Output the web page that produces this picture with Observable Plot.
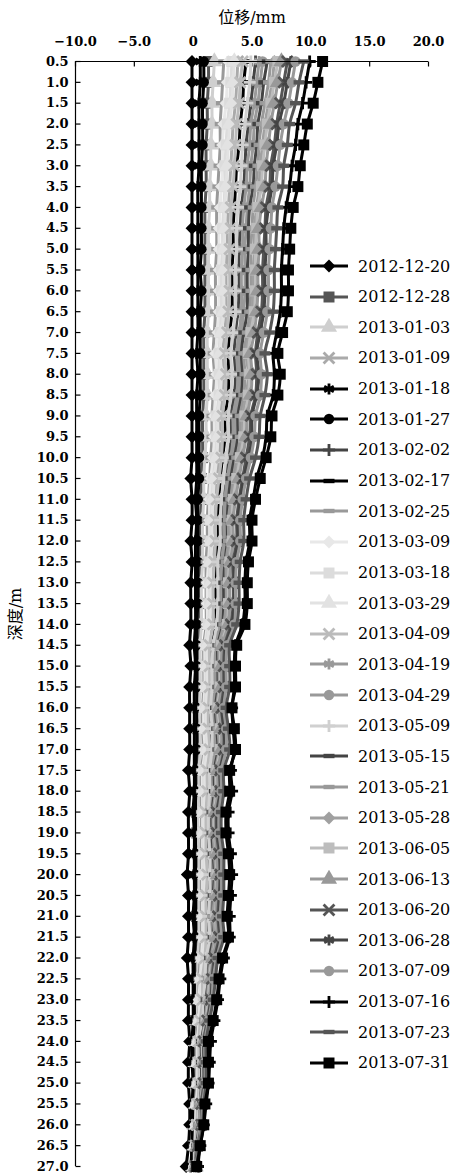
<!DOCTYPE html>
<html><head><meta charset="utf-8">
<script src="https://cdn.jsdelivr.net/npm/d3@7"></script>
<script src="https://cdn.jsdelivr.net/npm/@observablehq/plot@0.6"></script>
<style>
body{margin:0;background:#fff;}
#wrap{position:relative;width:452px;height:1173px;overflow:hidden;}
#legend{position:absolute;left:0;top:0;width:452px;height:1173px;pointer-events:none;}
.item{position:absolute;left:310px;height:18px;display:flex;align-items:center;white-space:nowrap;}
.item span{font-family:'DejaVu Serif';font-size:16px;color:#000;margin-left:8px;}
</style></head><body><div id="wrap"></div>
<script>
// depth (m)
const depths = [0.5,1.0,1.5,2.0,2.5,3.0,3.5,4.0,4.5,5.0,5.5,6.0,6.5,7.0,7.5,8.0,8.5,9.0,9.5,10.0,10.5,11.0,11.5,12.0,12.5,13.0,13.5,14.0,14.5,15.0,15.5,16.0,16.5,17.0,17.5,18.0,18.5,19.0,19.5,20.0,20.5,21.0,21.5,22.0,22.5,23.0,23.5,24.0,24.5,25.0,25.5,26.0,26.5,27.0];
const dates = ["2012-12-20","2012-12-28","2013-01-03","2013-01-09","2013-01-18","2013-01-27","2013-02-02","2013-02-17","2013-02-25","2013-03-09","2013-03-18","2013-03-29","2013-04-09","2013-04-19","2013-04-29","2013-05-09","2013-05-15","2013-05-21","2013-05-28","2013-06-05","2013-06-13","2013-06-20","2013-06-28","2013-07-09","2013-07-16","2013-07-23","2013-07-31"];
const xTicks = [-10,-5,0,5,10,15,20];

// displacement (mm) per date, one value per depth
const d20121220 = [-0.1,-0.1,-0.1,-0.1,-0.1,-0.1,-0.1,-0.1,-0.1,-0.1, -0.1,-0.1,-0.1,-0.1,-0.1,-0.1,-0.1,-0.1,-0.1,-0.1, -0.2,-0.1,-0.1,-0.2,-0.1,-0.2,-0.2,-0.2,-0.3,-0.2, -0.3,-0.3,-0.3,-0.3,-0.4,-0.3,-0.4,-0.4,-0.4,-0.5, -0.4,-0.4,-0.4,-0.5,-0.4,-0.4,-0.4,-0.3,-0.4,-0.4, -0.3,-0.3,-0.4,-0.6];
const d20121228 = [1.3,1.3,1.2,1.2,1.1,1.1,1.1,1.0,1.0,1.0, 1.0,1.0,1.0,0.9,0.9,0.9,0.9,0.8,0.8,0.8, 0.7,0.7,0.6,0.6,0.6,0.6,0.6,0.5,0.5,0.5, 0.5,0.4,0.4,0.5,0.4,0.4,0.3,0.3,0.4,0.4, 0.4,0.3,0.4,0.3,0.3,0.2,0.2,0.1,0.1,0.1, 0.1,0.1,0.0,0.0];
const d20130103 = [1.8,1.7,1.6,1.6,1.5,1.5,1.4,1.4,1.3,1.3, 1.3,1.3,1.3,1.2,1.2,1.2,1.2,1.1,1.1,1.0, 0.9,0.9,0.8,0.8,0.8,0.7,0.7,0.7,0.6,0.6, 0.6,0.5,0.6,0.6,0.5,0.5,0.4,0.4,0.5,0.5, 0.5,0.5,0.5,0.4,0.4,0.3,0.3,0.2,0.2,0.2, 0.2,0.1,0.1,0.0];
const d20130109 = [3.8,3.7,3.6,3.4,3.3,3.2,3.1,3.0,2.9,2.9, 2.8,2.8,2.8,2.7,2.5,2.6,2.5,2.3,2.3,2.2, 2.0,1.9,1.8,1.8,1.6,1.6,1.6,1.5,1.3,1.3, 1.3,1.2,1.2,1.3,1.1,1.1,1.0,1.0,1.1,1.1, 1.1,1.0,1.1,0.9,0.8,0.7,0.6,0.5,0.5,0.5, 0.4,0.3,0.2,0.1];
const d20130118 = [0.6,0.6,0.5,0.5,0.5,0.5,0.4,0.4,0.4,0.4, 0.4,0.4,0.4,0.4,0.3,0.4,0.3,0.3,0.3,0.3, 0.3,0.2,0.3,0.2,0.2,0.2,0.2,0.2,0.1,0.2, 0.1,0.1,0.1,0.1,0.1,0.1,0.0,0.1,0.1,0.1, 0.1,0.0,0.1,0.0,0.0,0.0,0.0,-0.1,-0.1,0.0, -0.1,-0.1,-0.1,-0.2];
const d20130127 = [0.9,0.9,0.8,0.8,0.8,0.7,0.7,0.7,0.7,0.7, 0.6,0.7,0.6,0.6,0.6,0.6,0.6,0.5,0.5,0.5, 0.5,0.4,0.4,0.4,0.4,0.4,0.4,0.3,0.3,0.3, 0.3,0.3,0.3,0.3,0.2,0.2,0.2,0.2,0.2,0.2, 0.2,0.2,0.2,0.1,0.1,0.1,0.1,0.0,0.0,0.0, 0.0,0.0,-0.1,-0.1];
const d20130202 = [5.3,5.1,4.9,4.7,4.5,4.4,4.3,4.1,4.0,3.9, 3.9,3.9,3.8,3.6,3.5,3.6,3.5,3.2,3.2,3.0, 2.7,2.5,2.4,2.4,2.3,2.2,2.2,2.1,1.8,1.7, 1.7,1.6,1.7,1.7,1.5,1.5,1.3,1.3,1.4,1.5, 1.4,1.4,1.4,1.2,1.1,1.0,0.8,0.6,0.6,0.6, 0.5,0.4,0.3,0.1];
const d20130217 = [4.5,4.3,4.2,4.0,3.9,3.7,3.6,3.5,3.4,3.4, 3.3,3.3,3.3,3.1,3.0,3.0,3.0,2.7,2.7,2.5, 2.3,2.2,2.1,2.1,1.9,1.9,1.9,1.8,1.5,1.5, 1.5,1.4,1.4,1.5,1.3,1.3,1.1,1.1,1.2,1.3, 1.2,1.2,1.2,1.0,0.9,0.8,0.7,0.5,0.5,0.5, 0.4,0.4,0.2,0.1];
const d20130225 = [2.6,2.5,2.4,2.3,2.3,2.2,2.1,2.0,2.0,2.0, 1.9,1.9,1.9,1.8,1.7,1.8,1.7,1.6,1.6,1.5, 1.4,1.3,1.2,1.2,1.1,1.1,1.1,1.1,0.9,0.9, 0.9,0.8,0.8,0.9,0.7,0.7,0.7,0.7,0.7,0.7, 0.7,0.7,0.7,0.6,0.5,0.5,0.4,0.3,0.3,0.3, 0.2,0.2,0.1,0.1];
const d20130309 = [3.0,2.9,2.8,2.6,2.5,2.5,2.4,2.3,2.2,2.2, 2.2,2.2,2.2,2.1,1.9,2.0,1.9,1.8,1.8,1.7, 1.5,1.4,1.4,1.4,1.3,1.2,1.2,1.2,1.0,1.0, 1.0,0.9,0.9,1.0,0.8,0.8,0.8,0.8,0.8,0.8, 0.8,0.8,0.8,0.7,0.6,0.5,0.5,0.4,0.4,0.4, 0.3,0.2,0.2,0.1];
const d20130318 = [3.3,3.2,3.1,2.9,2.8,2.7,2.7,2.6,2.5,2.5, 2.4,2.4,2.4,2.3,2.2,2.2,2.2,2.0,2.0,1.9, 1.7,1.6,1.5,1.5,1.4,1.4,1.4,1.3,1.1,1.1, 1.1,1.0,1.1,1.1,0.9,0.9,0.8,0.8,0.9,0.9, 0.9,0.9,0.9,0.8,0.7,0.6,0.5,0.4,0.4,0.4, 0.3,0.3,0.2,0.1];
const d20130329 = [3.5,3.4,3.3,3.1,3.0,2.9,2.8,2.7,2.7,2.6, 2.6,2.6,2.6,2.4,2.3,2.4,2.3,2.1,2.1,2.0, 1.8,1.7,1.6,1.6,1.5,1.5,1.5,1.4,1.2,1.2, 1.2,1.1,1.1,1.2,1.0,1.0,0.9,0.9,1.0,1.0, 1.0,0.9,1.0,0.8,0.7,0.6,0.5,0.4,0.4,0.4, 0.3,0.3,0.2,0.1];
const d20130409 = [4.2,4.0,3.9,3.7,3.6,3.5,3.4,3.2,3.2,3.1, 3.1,3.1,3.0,2.9,2.7,2.8,2.7,2.5,2.5,2.4, 2.2,2.0,1.9,1.9,1.8,1.7,1.7,1.7,1.4,1.4, 1.4,1.3,1.3,1.4,1.2,1.2,1.1,1.1,1.1,1.2, 1.1,1.1,1.1,1.0,0.8,0.8,0.6,0.5,0.5,0.5, 0.4,0.3,0.2,0.1];
const d20130419 = [5.6,5.4,5.2,4.9,4.8,4.6,4.5,4.3,4.2,4.2, 4.1,4.1,4.1,3.9,3.7,3.8,3.7,3.4,3.4,3.2, 2.9,2.7,2.6,2.6,2.4,2.3,2.3,2.2,1.9,1.8, 1.8,1.7,1.8,1.8,1.6,1.6,1.4,1.4,1.5,1.6, 1.5,1.5,1.5,1.3,1.1,1.0,0.9,0.7,0.7,0.7, 0.5,0.5,0.3,0.2];
const d20130429 = [5.9,5.7,5.5,5.2,5.1,4.9,4.8,4.6,4.5,4.4, 4.4,4.4,4.3,4.1,3.9,4.0,3.9,3.6,3.6,3.3, 3.1,2.9,2.7,2.7,2.5,2.5,2.5,2.4,2.0,1.9, 1.9,1.8,1.9,1.9,1.7,1.7,1.5,1.5,1.6,1.7, 1.6,1.6,1.6,1.4,1.2,1.1,0.9,0.7,0.7,0.7, 0.5,0.5,0.3,0.2];
const d20130509 = [4.9,4.8,4.6,4.4,4.2,4.1,4.0,3.8,3.7,3.7, 3.6,3.6,3.6,3.4,3.2,3.3,3.2,3.0,3.0,2.8, 2.6,2.4,2.3,2.3,2.1,2.1,2.1,2.0,1.7,1.6, 1.6,1.5,1.6,1.6,1.4,1.4,1.3,1.3,1.4,1.4, 1.4,1.3,1.4,1.1,1.0,0.9,0.8,0.6,0.6,0.6, 0.5,0.4,0.3,0.1];
const d20130515 = [6.3,6.0,5.8,5.5,5.4,5.2,5.1,4.8,4.7,4.7, 4.6,4.6,4.6,4.3,4.1,4.2,4.1,3.8,3.8,3.5, 3.2,3.0,2.9,2.9,2.7,2.6,2.6,2.5,2.1,2.1, 2.1,1.9,2.0,2.1,1.8,1.8,1.6,1.6,1.7,1.8, 1.7,1.7,1.7,1.4,1.3,1.1,1.0,0.7,0.7,0.7, 0.6,0.5,0.3,0.2];
const d20130521 = [6.6,6.4,6.1,5.8,5.6,5.5,5.3,5.1,5.0,4.9, 4.9,4.9,4.8,4.6,4.3,4.4,4.3,4.0,4.0,3.7, 3.4,3.2,3.0,3.0,2.8,2.8,2.8,2.6,2.2,2.2, 2.2,2.0,2.1,2.2,1.9,1.9,1.7,1.7,1.8,1.9, 1.8,1.7,1.8,1.5,1.3,1.2,1.0,0.8,0.8,0.8, 0.6,0.5,0.4,0.2];
const d20130528 = [6.9,6.7,6.4,6.1,5.9,5.7,5.6,5.4,5.2,5.2, 5.1,5.1,5.0,4.8,4.5,4.7,4.5,4.2,4.2,3.9, 3.6,3.3,3.2,3.2,3.0,2.9,2.9,2.8,2.3,2.3, 2.3,2.1,2.2,2.3,2.0,2.0,1.8,1.8,1.9,2.0, 1.9,1.8,1.9,1.6,1.4,1.3,1.1,0.8,0.8,0.8, 0.6,0.6,0.4,0.2];
const d20130605 = [7.2,6.9,6.6,6.3,6.1,5.9,5.8,5.5,5.4,5.3, 5.3,5.3,5.2,4.9,4.7,4.8,4.7,4.4,4.3,4.0, 3.7,3.4,3.3,3.3,3.1,3.0,3.0,2.9,2.4,2.3, 2.3,2.1,2.3,2.3,2.0,2.0,1.8,1.8,2.0,2.0, 2.0,1.9,2.0,1.6,1.4,1.3,1.1,0.8,0.8,0.8, 0.7,0.6,0.4,0.2];
const d20130613 = [7.5,7.2,6.9,6.6,6.4,6.2,6.1,5.8,5.6,5.6, 5.5,5.5,5.4,5.2,4.9,5.0,4.9,4.6,4.5,4.2, 3.9,3.6,3.4,3.4,3.2,3.1,3.1,3.0,2.5,2.4, 2.4,2.2,2.4,2.4,2.1,2.1,1.9,1.9,2.0,2.1, 2.0,2.0,2.0,1.7,1.5,1.4,1.2,0.9,0.9,0.9, 0.7,0.6,0.4,0.2];
const d20130620 = [8.0,7.7,7.4,7.1,6.9,6.6,6.5,6.2,6.1,6.0, 5.9,5.9,5.8,5.5,5.3,5.4,5.3,4.9,4.8,4.5, 4.2,3.9,3.7,3.7,3.4,3.4,3.4,3.2,2.7,2.6, 2.6,2.4,2.6,2.6,2.3,2.3,2.0,2.0,2.2,2.3, 2.2,2.1,2.2,1.8,1.6,1.5,1.2,0.9,0.9,0.9, 0.7,0.7,0.4,0.2];
const d20130628 = [8.3,8.0,7.7,7.3,7.1,6.8,6.7,6.4,6.2,6.2, 6.1,6.1,6.0,5.7,5.4,5.6,5.4,5.0,5.0,4.7, 4.3,4.0,3.8,3.8,3.5,3.5,3.5,3.3,2.8,2.7, 2.7,2.5,2.6,2.7,2.3,2.3,2.1,2.1,2.3,2.3, 2.3,2.2,2.3,1.9,1.7,1.5,1.3,1.0,1.0,1.0, 0.8,0.7,0.5,0.2];
const d20130709 = [8.7,8.4,8.1,7.7,7.4,7.2,7.0,6.7,6.6,6.5, 6.4,6.4,6.3,6.0,5.7,5.8,5.7,5.3,5.2,4.9, 4.5,4.2,4.0,4.0,3.7,3.6,3.6,3.5,2.9,2.8, 2.8,2.6,2.8,2.8,2.4,2.4,2.2,2.2,2.4,2.4, 2.4,2.3,2.4,2.0,1.7,1.6,1.3,1.0,1.0,1.0, 0.8,0.7,0.5,0.2];
const d20130716 = [9.9,9.6,9.3,8.9,8.7,8.4,8.2,7.9,7.7,7.6, 7.5,7.5,7.4,7.1,6.8,6.9,6.8,6.3,6.2,5.9, 5.4,5.1,4.8,4.8,4.5,4.4,4.4,4.2,3.6,3.5, 3.5,3.3,3.4,3.5,3.2,3.3,3.0,3.0,3.2,3.3, 3.2,3.1,3.1,2.6,2.3,2.1,1.8,1.5,1.4,1.3, 1.1,0.9,0.6,0.4];
const d20130723 = [9.4,9.0,8.7,8.2,8.0,7.7,7.6,7.2,7.1,7.0, 6.9,6.9,6.8,6.5,6.1,6.3,6.1,5.7,5.6,5.3, 4.8,4.5,4.3,4.3,4.0,3.9,3.9,3.7,3.1,3.1, 3.1,2.8,3.0,3.1,2.6,2.6,2.4,2.4,2.6,2.6, 2.6,2.5,2.6,2.1,1.9,1.7,1.4,1.1,1.1,1.1, 0.9,0.8,0.5,0.3];
const d20130731 = [11.0,10.6,10.2,9.7,9.4,9.1,8.9,8.5,8.3,8.2, 8.1,8.1,8.0,7.6,7.2,7.4,7.2,6.7,6.6,6.2, 5.7,5.3,5.0,5.0,4.7,4.6,4.6,4.4,3.7,3.6, 3.6,3.3,3.5,3.6,3.1,3.1,2.8,2.8,3.0,3.1, 3.0,2.9,3.0,2.5,2.2,2.0,1.7,1.3,1.3,1.3, 1.0,0.9,0.6,0.3];

const series = [d20121220,d20121228,d20130103,d20130109,d20130118,d20130127,d20130202,d20130217,d20130225,d20130309,d20130318,d20130329,d20130409,d20130419,d20130429,d20130509,d20130515,d20130521,d20130528,d20130605,d20130613,d20130620,d20130628,d20130709,d20130716,d20130723,d20130731];

// styles (kept apart from the data)
const colors = ["#000","#555","#cfcfcf","#aaa","#000","#000","#444","#000","#999","#e8e8e8","#dcdcdc","#e2e2e2","#bbb","#999","#999","#d0d0d0","#444","#999","#a0a0a0","#bdbdbd","#999","#555","#444","#999","#000","#555","#000"];
const markers = ["diamond","square","triangle","times","asterisk","circle","plus","dash","dash","diamond","square","triangle","times","asterisk","circle","plus","dash","dash","diamond","square","triangle","times","asterisk","circle","plus","dash","square"];

const dashSym = {draw(ctx, size){ const r = Math.sqrt(size/Math.PI); ctx.rect(-r, -r*0.4, 2*r, r*0.8); }};
const tickDown = {draw(ctx){ ctx.moveTo(0,0); ctx.lineTo(0,5); }};
const tickRight = {draw(ctx){ ctx.moveTo(0,0); ctx.lineTo(5,0); }};
const symDefs = {
  diamond: {type: d3.symbolDiamond2, r: 5.8, filled: true},
  square: {type: d3.symbolSquare, r: 6.2, filled: true},
  triangle: {type: d3.symbolTriangle, r: 6.0, filled: true},
  circle: {type: d3.symbolCircle, r: 5.2, filled: true},
  dash: {type: dashSym, r: 5.5, filled: true},
  times: {type: d3.symbolTimes, r: 5.0, filled: false},
  asterisk: {type: d3.symbolAsterisk, r: 5.2, filled: false},
  plus: {type: d3.symbolPlus, r: 4.0, filled: false}
};

const bad = series.map((s,i)=>s.length!==depths.length ? dates[i]+":"+s.length : null).filter(Boolean);

const marks = [];
series.forEach((vals, i) => {
  const data = depths.map((d, j) => ({depth: d, disp: vals[j]}));
  const sd = symDefs[markers[i]];
  marks.push(Plot.line(data, {x: "disp", y: "depth", stroke: colors[i], strokeWidth: 3, curve: "catmull-rom"}));
  marks.push(Plot.dot(data, {x: "disp", y: "depth", symbol: sd.type, r: sd.r,
    fill: sd.filled ? colors[i] : "none", stroke: sd.filled ? "none" : colors[i], strokeWidth: sd.filled ? 0 : 2.8}));
});

const xDomain = [-10, 20], yDomain = [0.5, 27];
const fmtX = d => d === 0 ? "0" : (d < 0 ? "\u2212" : "") + Math.abs(d).toFixed(1);

const plot = Plot.plot({
  width: 452, height: 1173,
  marginLeft: 75, marginRight: 24, marginTop: 61, marginBottom: 7,
  x: {domain: xDomain},
  y: {domain: yDomain, reverse: true},
  style: {fontFamily: "'DejaVu Serif'", fontSize: "13px", fontWeight: "bold", color: "#000", background: "#fff", overflow: "visible"},
  marks: [
    Plot.axisX({anchor: "top", ticks: xTicks, tickSize: 0, tickPadding: 16, tickFormat: fmtX, label: "位移/mm", labelAnchor: "center", labelOffset: 50, labelArrow: "none"}),
    Plot.axisY({anchor: "left", ticks: depths, tickSize: 0, tickPadding: 7, tickFormat: d3.format(".1f"), label: "深度/m", labelAnchor: "center", labelOffset: 66, labelArrow: "none"}),
    Plot.dot(xTicks, {x: d => d, frameAnchor: "top", symbol: tickDown, stroke: "#000", strokeWidth: 1.2}),
    Plot.dot(depths, {y: d => d, frameAnchor: "left", symbol: tickRight, stroke: "#000", strokeWidth: 1.2}),
    ...marks,
    Plot.ruleY([yDomain[0]], {stroke: "#000", strokeWidth: 1.2}),
    Plot.ruleX([xDomain[0]], {stroke: "#000", strokeWidth: 1.2})
  ]
});
d3.select(plot).selectAll('g[aria-label="x-axis label"] text, g[aria-label="y-axis label"] text')
  .attr("font-family", "'DejaVu Serif','Noto Sans CJK SC'").attr("font-size", 16).attr("font-weight", "normal");

const wrap = document.getElementById("wrap");
wrap.appendChild(plot);

// legend
const leg = document.createElement("div");
leg.id = "legend";
dates.forEach((dt, i) => {
  const sd = symDefs[markers[i]];
  const item = document.createElement("div");
  item.className = "item";
  item.style.top = (266 + i * 30.65 - 9) + "px";
  const s = d3.create("svg").attr("width", 40).attr("height", 18);
  s.append("line").attr("x1", 0).attr("x2", 38).attr("y1", 9).attr("y2", 9).attr("stroke", colors[i]).attr("stroke-width", 3);
  s.append("path").attr("transform", "translate(19,9)")
    .attr("d", d3.symbol(sd.type, Math.PI * sd.r * sd.r)())
    .attr("fill", sd.filled ? colors[i] : "none")
    .attr("stroke", sd.filled ? "none" : colors[i]).attr("stroke-width", sd.filled ? 0 : 2.8);
  item.appendChild(s.node());
  const sp = document.createElement("span");
  sp.textContent = dt;
  item.appendChild(sp);
  leg.appendChild(item);
});
wrap.appendChild(leg);
if (bad.length) { const e = document.createElement("div"); e.textContent = "LEN " + bad.join(" "); e.style.cssText="position:absolute;top:0;left:0;color:red"; wrap.appendChild(e); }
</script></body></html>
